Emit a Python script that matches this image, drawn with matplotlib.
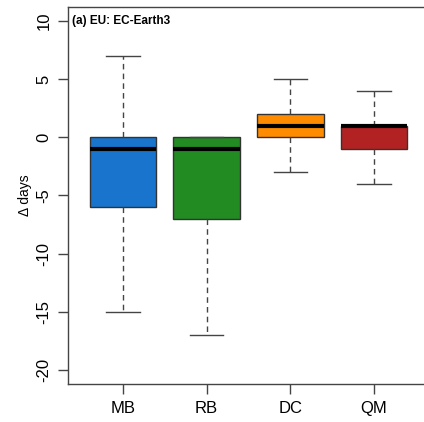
import matplotlib.pyplot as plt
import matplotlib as mpl

plt.rcParams['font.family'] = ['Liberation Sans', 'DejaVu Sans']

methods = ["MB", "RB", "DC", "QM"]
colors = ["#1874CD", "#228B22", "#FF8C00", "#B22222"]
whisk_lo = [-15, -17, -3, -4]
q1 = [-6, -7, 0, -1]
med = [-1, -1, 1, 1]
q3 = [0, 0, 2, 1]
whisk_hi = [7, 0, 5, 4]

stats = []
for i, m in enumerate(methods):
    stats.append(dict(label=m, whislo=whisk_lo[i], q1=q1[i], med=med[i],
                      q3=q3[i], whishi=whisk_hi[i], fliers=[]))

fig = plt.figure(figsize=(4.24, 4.22), dpi=100)
W, H = 424, 422
left, right, top, bottom = 68, 429, 7, 384
ax = fig.add_axes([left / W, 1 - bottom / H, (right - left) / W, (bottom - top) / H])

bp = ax.bxp(stats, positions=[1, 2, 3, 4], widths=0.8, patch_artist=True,
            showfliers=False,
            boxprops=dict(edgecolor="#333333", linewidth=1.0),
            medianprops=dict(color="black", linewidth=3.0, solid_capstyle="butt"),
            whiskerprops=dict(color="#444444", linestyle=(0, (4, 3)), linewidth=1.0),
            capprops=dict(color="#444444", linewidth=1.0),
            capwidths=0.4)
for patch, c in zip(bp["boxes"], colors):
    patch.set_facecolor(c)

ax.set_xlim(0.343, 4.657)
ax.set_ylim(-21.2, 11.2)
ax.set_yticks([-20, -15, -10, -5, 0, 5, 10])
ax.set_yticklabels(["-20", "-15", "-10", "-5", "0", "5", "10"], rotation=90, va="center")
ax.set_xticks([1, 2, 3, 4])
ax.set_xticklabels(methods)
ax.tick_params(axis="both", labelsize=12, length=7, width=1, color="#444444", pad=5)
ax.tick_params(axis="x", pad=5)
for s in ax.spines.values():
    s.set_color("#444444")
    s.set_linewidth(1.0)

ax.set_ylabel("Δ days", fontsize=10, labelpad=3)
ax.text(0.012, 0.978, "(a) EU: EC-Earth3", transform=ax.transAxes, fontsize=8.5,
        fontweight="bold", va="top", ha="left")

fig.savefig("out.png", dpi=100)
